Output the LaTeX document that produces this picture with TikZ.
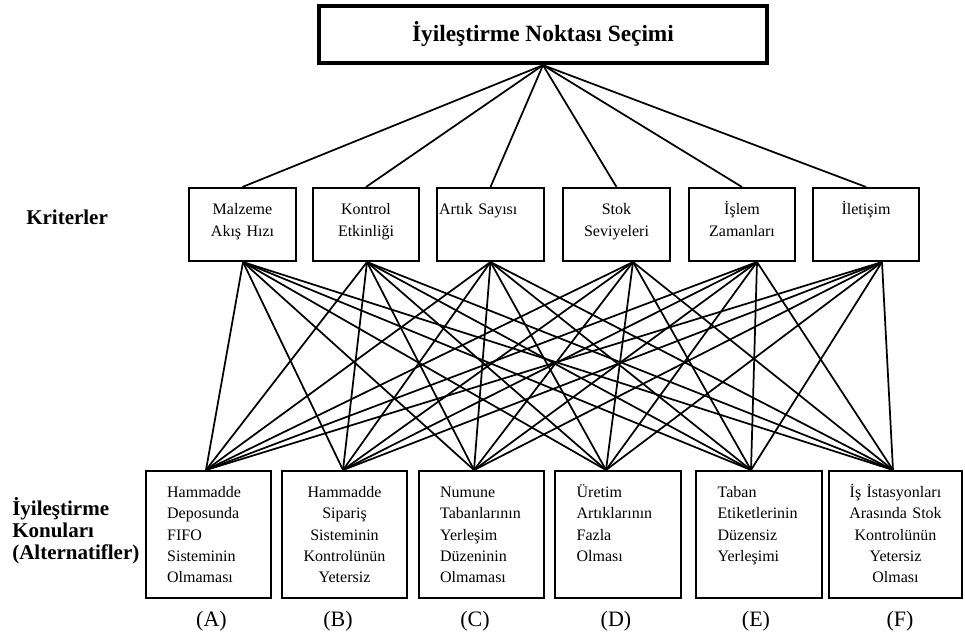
\documentclass[tikz,border=0pt]{standalone}
\usepackage{fontspec}
\setmainfont{Liberation Serif}
\usetikzlibrary{calc}

\begin{document}
\begin{tikzpicture}[
  x=0.75pt, y=-0.75pt,
  goal/.style={draw, line width=3.2pt, minimum width=336pt, minimum height=42.75pt,
               inner sep=0pt, font=\fontsize{17.5}{21}\selectfont\bfseries},
  crit/.style={draw, line width=1.5pt, align=center, text width=77pt,
               inner xsep=1.6pt, inner ysep=0pt, text height=19.9pt, text depth=34.9pt,
               font=\fontsize{12}{16.5}\selectfont},
  alt/.style={draw, line width=1.5pt, align=left, text width=62pt,
              inner xsep=15.9pt, inner ysep=0pt, text height=19.9pt, text depth=75.35pt,
              font=\fontsize{12}{16}\selectfont},
  side/.style={inner sep=0pt, anchor=base west, font=\fontsize{15.75}{16.5}\selectfont\bfseries},
  tag/.style={inner sep=0pt, anchor=base, font=\fontsize{16.5}{18}\selectfont},
  link/.style={line width=1.3pt}
]
\useasboundingbox (0,0) rectangle (965,637);

% goal
\node[goal] (goal) at (543,34.5) {İyileştirme Noktası Seçimi};

% criteria
\node[side] (krit) at (26,224) {Kriterler};
\node[crit] (malz) at (242.5,224.5) {Malzeme\\Akış Hızı};
\node[crit] (kont) at (366,224.5) {Kontrol\\Etkinliği};
\node[crit, align=left] (artik) at (490.5,224.5) {Artık Sayısı};
\node[crit] (stok) at (616.5,224.5) {Stok\\Seviyeleri};
\node[crit] (islem) at (742,224.5) {İşlem\\Zamanları};
\node[crit] (ilet) at (866,224.5) {İletişim};

% alternatives
\node[side, align=left, text width=100pt] (konu) at (12,515)
  {İyileştirme\\Konuları\\(Alternatifler)};
\node[alt] (altA) at (208.5,534.5) {Hammadde\\Deposunda\\FIFO\\Sisteminin\\Olmaması};
\node[alt, align=center] (altB) at (344.5,534.5) {Hammadde\\Sipariş\\Sisteminin\\Kontrolünün\\Yetersiz};
\node[alt] (altC) at (481.5,534.5) {Numune\\Tabanlarının\\Yerleşim\\Düzeninin\\Olmaması};
\node[alt] (altD) at (618,534.5) {Üretim\\Artıklarının\\Fazla\\Olması};
\node[alt] (altE) at (759,534.5) {Taban\\Etiketlerinin\\Düzensiz\\Yerleşimi};
\node[alt, align=center, text width=70pt, inner xsep=14.9pt] (altF) at (895.5,534.5)
  {İş İstasyonları\\Arasında Stok\\Kontrolünün\\Yetersiz\\Olması};

\node[tag] (tA) at (211.5,626) {(A)};
\node[tag] (tB) at (338,626) {(B)};
\node[tag] (tC) at (475,626) {(C)};
\node[tag] (tD) at (616,626) {(D)};
\node[tag] (tE) at (756,626) {(E)};
\node[tag] (tF) at (900,626) {(F)};

% line ends
\foreach \n/\dx in {malz/0.5,kont/1,artik/0,stok/16.5,islem/15,ilet/16}
  \coordinate (\n-b) at ($(\n.south)+(\dx,0)$);
\foreach \m/\dx in {altA/-2.5,altB/-1.5,altC/-7.5,altD/-12,altE/-8,altF/-2.5}
  \coordinate (\m-t) at ($(\m.north)+(\dx,0)$);

% links
\foreach \n in {malz,kont,artik,stok,islem,ilet}
  \draw[link] (goal.south) -- (\n.north);
\foreach \n in {malz,kont,artik,stok,islem,ilet}
  \foreach \m in {altA,altB,altC,altD,altE,altF}
    \draw[link] (\n-b) -- (\m-t);
\end{tikzpicture}
\end{document}
